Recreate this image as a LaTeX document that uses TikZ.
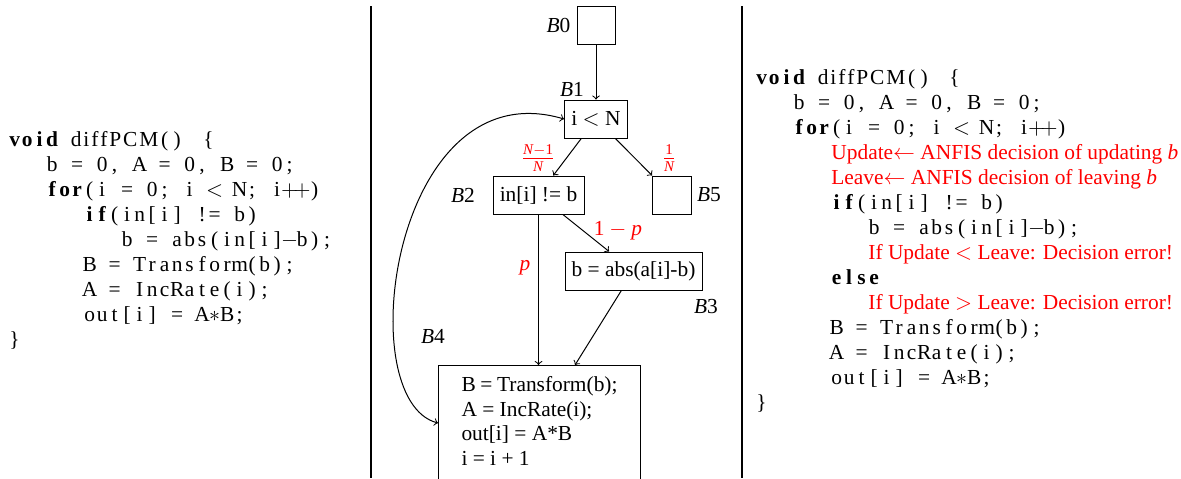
\documentclass[tikz,border=0pt]{standalone}
\usepackage{fontspec}
\setmainfont{Liberation Serif}
\usepackage{amsmath}
\usetikzlibrary{calc}
\newcommand\mfont{\fontsize{10.7}{12.25}\selectfont}
\ExplSyntaxOn
\dim_new:N \l_cw_dim
\dim_set:Nn \l_cw_dim {6.25pt}
\NewDocumentCommand \codeln { m }
  {
    \str_map_inline:nn {#1}
      {
        \str_case:nnF {##1}
          {
            {*} { \makebox[\l_cw_dim]{$\ast$} }
            {-} { \makebox[\l_cw_dim]{$-$} }
            {<} { \makebox[\l_cw_dim]{$<$} }
            {+} { \makebox[\l_cw_dim]{$+$} }
          }
          { \makebox[\l_cw_dim]{##1} }
      }
  }
\ExplSyntaxOff
\newcommand\kwd[1]{{\bfseries\codeln{#1}}}
\newcommand\diffname{\makebox[43.75pt][s]{d\hfil i\hfil f\hfil f\hfil P\hfil C\hfil M}}
\tikzset{
  blk/.style={draw, inner sep=0pt, font=\mfont, line width=0.5pt},
  lbl/.style={inner sep=0pt, font=\mfont},
  elbl/.style={inner sep=0pt, font=\mfont, text=red},
  code/.style={anchor=base west, inner sep=0pt, font=\mfont},
  note/.style={anchor=base west, inner sep=0pt, font=\mfont, text=red},
  conn/.style={->, line width=0.5pt},
  sep/.style={line width=0.6pt}
}
\begin{document}
\begin{tikzpicture}[x=0.5pt, y=-0.5pt]
\useasboundingbox (0,0) rectangle (1181,478);
\clip (0,0) rectangle (1181,478);
% separators
\draw[sep] (371,6) -- (371,478);
\draw[sep] (742,6) -- (742,478);
% left code
\node[code] (L1) at (8,146) {\kwd{void}\codeln{ }\diffname\codeln{()}\hspace{10pt}\{};
\node[code] (L2) at (45.5,171) {\codeln{b = 0, A = 0, B = 0;}};
\node[code] (L3) at (45.5,196) {\kwd{for}\codeln{(i = 0; i < N; i++)}};
\node[code] (L4) at (83,221) {\kwd{if}\codeln{(in[i] != b)}};
\node[code] (L5) at (120.5,246) {\codeln{b = abs(in[i]-b);}};
\node[code] (L6) at (83,271) {\codeln{B = Transform(b);}};
\node[code] (L7) at (83,296) {\codeln{A = IncRate(i);}};
\node[code] (L8) at (83,321) {\codeln{out[i] = A*B;}};
\node[code] (L9) at (9,346) {\}};
% middle flow graph
\node[blk, minimum width=19pt, minimum height=19pt] (B0) at (596,25) {};
\node[blk, minimum width=31.5pt, minimum height=19pt] (B1) at (596,119) {i $<$ N};
\node[blk, minimum width=45.5pt, minimum height=19pt] (B2) at (538.5,195) {in[i] != b};
\node[blk, minimum width=19.5pt, minimum height=19pt] (B5) at (671.5,195) {};
\node[blk, minimum width=68.5pt, minimum height=19pt] (B3) at (633.5,271) {b = abs(a[i]-b)};
\node[blk, anchor=north west, inner xsep=11.5pt, inner ysep=0pt] (B4) at (438,365)
  {\parbox[c][62pt][t]{78pt}{\vspace{5.5pt}\mfont B = Transform(b);\\ A = IncRate(i);\\ out[i] = A*B\\ i = i + 1}};
\node[lbl] (lB0) at (558.5,25.5) {\textit{B}0};
\node[lbl] (lB1) at (572,89.5) {\textit{B}1};
\node[lbl] (lB2) at (463,195) {\textit{B}2};
\node[lbl] (lB5) at (709,195) {\textit{B}5};
\node[lbl] (lB3) at (706,307) {\textit{B}3};
\node[lbl] (lB4) at (433,336) {\textit{B}4};
\node[elbl] (e12) at (538,158) {$\frac{\textit{N}-\text{1}}{\textit{N}}$};
\node[elbl] (e15) at (669,158) {$\frac{\text{1}}{\textit{N}}$};
\node[elbl] (e23) at (618,231) {$\text{1}-\textit{p}$};
\node[elbl] (e24) at (525,268) {\textit{p}};
\draw[conn] (B0) -- (B1);
\draw[conn] (B1) -- (B2);
\draw[conn] (B1) -- (B5);
\draw[conn] (B2) -- (B3);
\draw[conn] (B2.south) -- (B2.south |- B4.north);
\draw[conn] (B3) -- ([xshift=68.5pt]B4.north west);
\draw[conn, <->] ([yshift=-29pt]B4.north west) .. controls (350,400) and (392,68) .. (B1.west);
% right code
\node[code] (R1) at (755,84) {\kwd{void}\codeln{ }\diffname\codeln{()}\hspace{9.5pt}\{};
\node[code] (R2) at (792.5,109) {\codeln{b = 0, A = 0, B = 0;}};
\node[code] (R3) at (792.5,134) {\kwd{for}\codeln{(i = 0; i < N; i++)}};
\node[note] (R4) at (831,159) {Update$\leftarrow$ ANFIS decision of updating \textit{b}};
\node[note] (R5) at (831,184) {Leave$\leftarrow$ ANFIS decision of leaving \textit{b}};
\node[code] (R6) at (830,209) {\kwd{if}\codeln{(in[i] != b)}};
\node[code] (R7) at (867.5,234) {\codeln{b = abs(in[i]-b);}};
\node[note] (R8) at (868,259) {If Update $<$ Leave: Decision error!};
\node[code] (R9) at (830,284) {\kwd{else}};
\node[note] (R10) at (868,309) {If Update $>$ Leave: Decision error!};
\node[code] (R11) at (830,334) {\codeln{B = Transform(b);}};
\node[code] (R12) at (830,359) {\codeln{A = IncRate(i);}};
\node[code] (R13) at (830,384) {\codeln{out[i] = A*B;}};
\node[code] (R14) at (756,409) {\}};
\end{tikzpicture}
\end{document}
